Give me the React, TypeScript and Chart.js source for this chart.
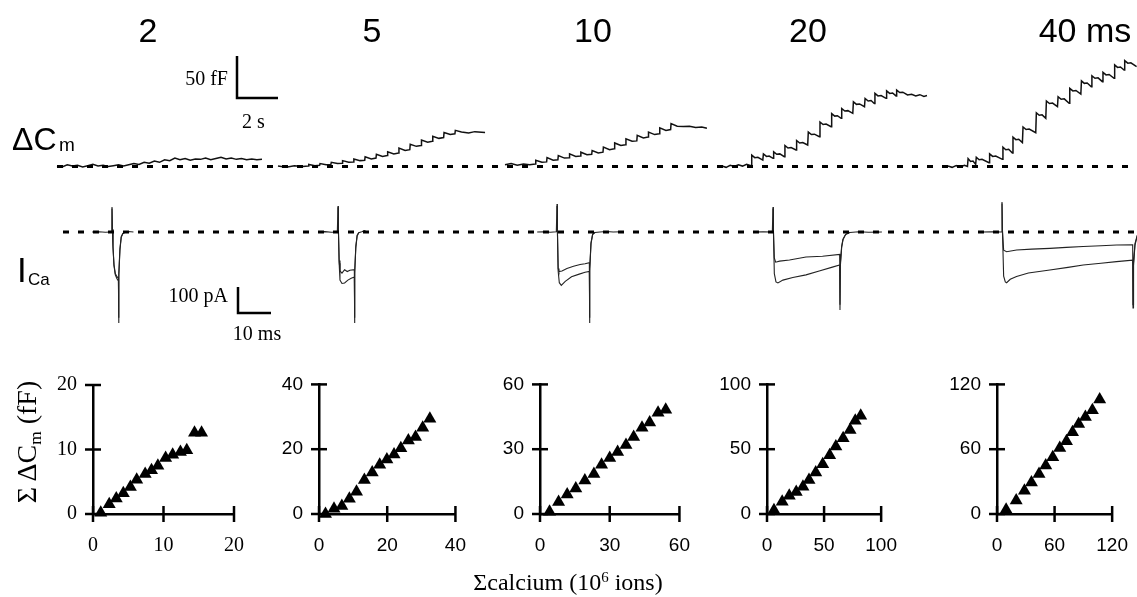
import React, { useEffect, useRef } from 'react';
import { Chart, registerables } from 'chart.js';

Chart.register(...registerables);

// ---------------- DATA ----------------
const pulseLabels = ['2', '5', '10', '20', '40 ms'];

// ΔCm traces: [time (s), ΔCm (fF)]
const dCm1: [number, number][] = [
  [0, 1], [0.25, -0.5], [0.5, 2], [0.75, 0.5], [1, 1.5], [1.25, -0.5], [1.5, 1], [1.75, 2.5], [2, 0.5],
  [2.25, 1.5], [2.5, 0], [2.75, 1], [3, 2], [3.25, 0.5], [3.5, 2], [3.75, 3.5], [4, 2.5], [4.25, 5],
  [4.5, 4], [4.75, 6.5], [5, 5], [5.25, 8], [5.5, 7], [5.75, 10], [6, 8], [6.25, 9.5], [6.5, 7.5],
  [6.75, 9], [7, 8.5], [7.25, 10], [7.5, 8], [7.75, 9.5], [8, 11], [8.25, 9], [8.5, 10], [8.75, 8.5],
  [9, 9.5], [9.25, 8], [9.5, 9], [9.75, 8], [10, 8.5],
];
const dCm2: [number, number][] = [
  [0, 0.5], [0.4, -1], [0.8, 1], [1.2, 0], [1.48, 0.5],
  [1.5, 2.5], [1.8, 1], [2.03, 1.5], [2.05, 3.5], [2.35, 2], [2.58, 2.5],
  [2.6, 5], [2.9, 3.5], [3.13, 4], [3.15, 7], [3.45, 5], [3.68, 5.5],
  [3.7, 9], [4.0, 7], [4.23, 7.5], [4.25, 11.5], [4.55, 9], [4.78, 10],
  [4.8, 14.5], [5.1, 12], [5.33, 13], [5.35, 17.5], [5.65, 15], [5.88, 16],
  [5.9, 22], [6.2, 19], [6.43, 20], [6.45, 26.5], [6.75, 24], [6.98, 25],
  [7.0, 31.5], [7.3, 29], [7.53, 30], [7.55, 36], [7.85, 33.5], [8.08, 34.5],
  [8.1, 40.5], [8.4, 38], [8.63, 39], [8.65, 43], [8.95, 41], [9.3, 40], [9.6, 41.5], [10.1, 40.5],
];
const dCm3: [number, number][] = [
  [0, 2], [0.3, 3.5], [0.6, 1.5], [0.9, 3], [1.2, 2], [1.48, 3],
  [1.5, 7.5], [1.8, 5], [2.03, 5.5], [2.05, 10.5], [2.35, 7.5], [2.58, 8],
  [2.6, 13], [2.9, 10], [3.13, 10.5], [3.15, 15], [3.45, 12], [3.68, 12.5],
  [3.7, 17], [4.0, 14], [4.23, 14.5], [4.25, 19], [4.55, 16], [4.78, 17],
  [4.8, 23], [5.1, 20], [5.33, 21], [5.35, 28], [5.65, 25], [5.88, 26],
  [5.9, 33], [6.2, 30], [6.43, 30.5], [6.45, 37], [6.75, 34], [6.98, 35],
  [7.0, 41], [7.3, 38], [7.53, 39], [7.55, 46], [7.85, 43], [8.08, 44],
  [8.1, 51], [8.4, 48], [8.7, 47.5], [9.0, 48], [9.3, 46.5], [9.6, 47], [9.85, 45.5],
];
const dCm4: [number, number][] = [
  [0, 0.5], [0.2, -1], [0.4, 1.5], [0.6, 0], [0.8, 2], [1.0, 0.5], [1.2, 2.5], [1.42, 1],
  [1.45, 13.5], [1.6, 10.5], [1.75, 11], [1.99, 7.7],
  [2.02, 15], [2.17, 12], [2.3, 12.5], [2.49, 9.7],
  [2.52, 17.5], [2.67, 14.5], [2.82, 15], [3.04, 11.7],
  [3.07, 25], [3.22, 22], [3.37, 22.5], [3.61, 19.6],
  [3.64, 31], [3.79, 28], [3.94, 28.5], [4.18, 25.6],
  [4.21, 41], [4.36, 38], [4.51, 38.5], [4.75, 35.5],
  [4.78, 53], [4.93, 50], [5.08, 50.5], [5.32, 47.4],
  [5.35, 63], [5.5, 60], [5.63, 60.5], [5.81, 57.4],
  [5.84, 69], [5.99, 66], [6.14, 66.5], [6.38, 63.3],
  [6.41, 77], [6.56, 74], [6.71, 74.5], [6.95, 71.2],
  [6.98, 81], [7.13, 78], [7.27, 78.5], [7.43, 75],
  [7.46, 87], [7.61, 84], [7.76, 84.5], [8.0, 81.2],
  [8.03, 90], [8.18, 87], [8.32, 87.5], [8.49, 84],
  [8.52, 91], [8.67, 88], [8.82, 88.5], [9.05, 85.1],
  [9.25, 86], [9.45, 84], [9.65, 85.5], [9.85, 83.5], [10, 84.5],
];
const dCm5: [number, number][] = [
  [0, 0.5], [0.2, -1], [0.4, 1], [0.6, -0.5], [0.8, 1.5], [0.95, 0],
  [0.98, 9.5], [1.1, 6], [1.22, 6.5], [1.35, 2.5],
  [1.38, 11], [1.52, 8], [1.66, 8.5], [2.0, 4.5],
  [2.03, 15], [2.18, 12], [2.33, 12.5], [2.65, 8.5],
  [2.68, 23], [2.82, 20], [2.96, 20.5], [3.14, 16],
  [3.17, 35], [3.31, 32], [3.45, 32.5], [3.63, 28.4],
  [3.66, 47], [3.81, 44], [3.96, 44.5], [4.28, 40.3],
  [4.31, 64], [4.45, 61], [4.59, 61.5], [4.77, 57.4],
  [4.8, 78], [4.95, 75], [5.1, 75.5], [5.34, 71.2],
  [5.37, 83], [5.52, 80], [5.67, 80.5], [5.91, 75.2],
  [5.94, 93], [6.09, 90], [6.24, 90.5], [6.48, 86.3],
  [6.51, 102], [6.65, 99], [6.79, 99.5], [6.99, 95],
  [7.02, 108], [7.17, 105], [7.32, 105.5], [7.53, 101],
  [7.56, 112], [7.71, 109], [7.86, 109.5], [8.1, 105],
  [8.13, 121], [8.27, 118], [8.41, 118.5], [8.59, 114.9],
  [8.62, 126], [8.77, 123], [8.92, 123.5], [9.2, 119],
];

// ICa traces: [time from pulse onset (ms), current (pA)]; a = larger, b = smaller
const iCa1a: [number, number][] = [
  [-6, 0], [-4, 1], [-2, -1], [-0.2, 0], [0, 96], [0.12, 10], [0.3, -60], [0.6, -130], [1.0, -165],
  [1.5, -180], [1.95, -188], [2.0, -350], [2.12, -170], [2.4, -70], [2.8, -20], [3.3, -6], [4.0, -1], [5, 2], [6.5, 0],
];
const iCa1b: [number, number][] = [
  [-0.2, 0], [0, 90], [0.12, 10], [0.3, -55], [0.6, -125], [1.0, -160], [1.5, -172], [1.95, -178],
  [2.0, -330], [2.12, -160], [2.4, -65], [2.8, -18], [3.3, -5], [4, 0],
];
const iCa2a: [number, number][] = [
  [-6, 0], [-4, 1.5], [-2, -1], [-0.2, 0], [0, 100], [0.12, 10], [0.35, -120], [0.6, -185], [1.2, -198],
  [2, -196], [3, -185], [4, -178], [4.95, -173], [5.0, -350], [5.12, -160], [5.4, -60], [5.8, -15],
  [6.3, -3], [7.2, 1], [8, 5], [8.8, 0],
];
const iCa2b: [number, number][] = [
  [0, 95], [0.12, 10], [0.35, -110], [0.6, -150], [1.2, -158], [2, -145], [2.8, -152], [3.6, -147],
  [4.95, -145], [5.0, -330], [5.12, -150], [5.4, -55], [5.8, -12], [6.3, -2],
];
const iCa3a: [number, number][] = [
  [-6, 0], [-4, 1], [-2, -1], [-0.2, 1], [0, 108], [0.12, 10], [0.35, -150], [0.7, -195], [1.3, -205],
  [2.5, -190], [4.4, -172], [6.5, -163], [8.5, -155], [9.8, -152], [9.85, -350], [9.97, -150],
  [10.3, -45], [10.8, -10], [11.5, -2], [13, 0], [15, 2], [17, 0], [20, 1],
];
const iCa3b: [number, number][] = [
  [0, 100], [0.12, 10], [0.35, -140], [0.6, -152], [1.5, -150], [3, -140], [5, -132], [7, -125],
  [8.5, -122], [9.8, -118], [9.85, -330], [9.97, -140], [10.3, -42], [10.8, -8], [11.5, -1],
];
const iCa4a: [number, number][] = [
  [-6, 0], [-3, 1], [-0.2, 0], [0, 96], [0.12, 10], [0.4, -160], [0.9, -192], [1.5, -196], [3, -185],
  [6, -175], [10, -165], [14, -150], [18, -135], [20.2, -127], [20.3, -300], [20.42, -130],
  [20.8, -60], [21.2, -30], [22, -10], [23.3, -2], [26, 1], [29, -1], [33, 0],
];
const iCa4b: [number, number][] = [
  [0, 90], [0.12, 10], [0.4, -100], [0.8, -116], [2, -112], [5, -108], [10, -96], [15, -93],
  [20.2, -86], [20.3, -280], [20.42, -120], [20.8, -55], [21.2, -28], [22, -9], [23.3, -1],
];
const iCa5a: [number, number][] = [
  [-6, 0], [-3, 1], [-0.2, 0], [0, 115], [0.12, 10], [0.5, -170], [1.0, -192], [1.4, -195],
  [2.5, -182], [4.4, -171], [8, -158], [14.5, -146], [20, -136], [24.6, -127], [30, -120],
  [34.7, -114], [39.6, -108], [39.7, -292], [39.85, -130], [40.3, -50], [41, -15],
];
const iCa5b: [number, number][] = [
  [0, 110], [0.12, 10], [0.5, -70], [1.4, -76], [4.4, -69], [9, -66], [14.5, -63], [19.5, -59],
  [24.6, -56], [30, -53], [34.7, -50], [39.6, -49], [39.7, -280], [39.85, -120], [40.3, -45], [41, -12],
];

// Cumulative plots: Σcalcium (10^6 ions) vs ΣΔCm (fF)
const calcium1 = [1.1, 2.3, 3.3, 4.3, 5.3, 6.2, 7.4, 8.3, 9.2, 10.3, 11.3, 12.4, 13.3, 14.4, 15.4];
const sumCm1 = [0.2, 1.5, 2.4, 3.2, 4.2, 5.3, 6.2, 6.8, 7.5, 8.7, 9.2, 9.6, 9.9, 12.6, 12.6];
const calcium2 = [1.9, 4.4, 6.7, 8.9, 11, 13.3, 15.6, 17.8, 19.9, 22, 24, 26.2, 28.3, 30.4, 32.5];
const sumCm2 = [0, 1.6, 2.5, 4.7, 6.9, 10.5, 12.8, 15.2, 16.8, 18.4, 20.3, 22.7, 23.8, 26.6, 29.4];
const calcium3 = [4.1, 8, 11.7, 15.4, 19.3, 23.2, 26.5, 30, 33.4, 37, 40.3, 43.9, 47.2, 50.8, 54.1];
const sumCm3 = [1, 5.6, 9, 11.8, 15.5, 18.5, 22.8, 25.9, 28.7, 31.9, 35.7, 39.9, 42.4, 46.9, 48.3];
const calcium4 = [6.1, 13.3, 19.5, 25.6, 31.5, 36.8, 42.7, 48.8, 54.9, 60.3, 66.7, 72.8, 77.3, 82.1];
const sumCm4 = [2.8, 9.4, 14, 16.9, 21.1, 26.2, 32.1, 38.4, 45.4, 52, 58.5, 64.9, 71.9, 75.9];
const calcium5 = [9.5, 20, 28.6, 35.9, 43.8, 50.8, 58.1, 65.4, 72.4, 78.7, 85.1, 92.1, 99.4, 107];
const sumCm5 = [3.9, 12.4, 21.6, 29.2, 37.1, 44.9, 52.5, 61, 67.4, 75.8, 83.4, 89.9, 96.1, 106];
const axisMax = [20, 40, 60, 100, 120];
const axisStep = [10, 20, 30, 50, 60];

// scale bars
const cmBarFF = 50;
const cmBarS = 2;
const iBarPA = 100;
const iBarMS = 10;

// ---------------- LAYOUT ----------------
const W = 1137;
const H = 597;
const SANS = '"Liberation Sans", Arial, Helvetica, sans-serif';
const SERIF = '"Liberation Serif", "Times New Roman", serif';

const CM_PX_PER_S = 20.5;
const CM_PX_PER_FF = 0.84;
const CM_BASE_Y = 166.5;
const CM_TOP = 40;
const CM_H = 140;
const CM_START_PX = [57, 278, 505, 722, 948];
const CM_BASE_END_PX = 1132;
const CM_BAR_PX = { x: 237, y: 98 };

const I_PX_PER_MS = 3.3;
const I_PX_PER_PA = 0.26;
const I_BASE_Y = 232;
const I_TOP = 195;
const I_H = 145;
const I_ONSET_PX = [112, 338, 557, 773, 1002];
const I_BASE_START_PX = 63;
const I_BAR_PX = { x: 238, y: 313 };

const SC_LEFT = [93, 319, 540, 767, 997];
const SC_W = [146, 142, 145, 125, 126];
const SC_TOP = 372;
const SC_H = 142;
const SC_YAXIS = 60;
const SC_XAXIS = 45;
const SC_PADT = 15;
const SC_PADR = 25;

const lineDs = (data: { x: number; y: number }[], width: number, color = '#111', dash: number[] = []) => ({
  data,
  showLine: true,
  pointRadius: 0,
  borderColor: color,
  backgroundColor: color,
  borderWidth: width,
  borderDash: dash,
  tension: 0,
  clip: false as any,
});

const hiddenOpts = (xmin: number, xmax: number, ymin: number, ymax: number) => ({
  responsive: false,
  maintainAspectRatio: false,
  animation: false as const,
  devicePixelRatio: 1,
  layout: { padding: 0 },
  plugins: { legend: { display: false }, tooltip: { enabled: false } },
  events: [] as any[],
  scales: {
    x: { type: 'linear' as const, display: false, min: xmin, max: xmax },
    y: { type: 'linear' as const, display: false, min: ymin, max: ymax },
  },
});

function buildCm() {
  const traces = [dCm1, dCm2, dCm3, dCm4, dCm5];
  const offs = CM_START_PX.map((p) => p / CM_PX_PER_S);
  const bx = CM_BAR_PX.x / CM_PX_PER_S;
  const by = (CM_BASE_Y - CM_BAR_PX.y) / CM_PX_PER_FF;
  return {
    type: 'scatter' as const,
    data: {
      datasets: [
        lineDs([{ x: offs[0], y: 0 }, { x: CM_BASE_END_PX / CM_PX_PER_S, y: 0 }], 3, '#000', [6, 9]),
        ...traces.map((tr, i) => lineDs(tr.map(([t, v]) => ({ x: t + offs[i], y: v })), 1.5)),
        lineDs([{ x: bx, y: by + cmBarFF }, { x: bx, y: by }, { x: bx + cmBarS, y: by }], 2.5, '#000'),
      ],
    },
    options: hiddenOpts(0, W / CM_PX_PER_S, -(CM_TOP + CM_H - CM_BASE_Y) / CM_PX_PER_FF, (CM_BASE_Y - CM_TOP) / CM_PX_PER_FF),
  };
}

function buildI() {
  const traces: [number, number][][][] = [
    [iCa1a, iCa1b], [iCa2a, iCa2b], [iCa3a, iCa3b], [iCa4a, iCa4b], [iCa5a, iCa5b],
  ];
  const offs = I_ONSET_PX.map((p) => p / I_PX_PER_MS);
  const bx = I_BAR_PX.x / I_PX_PER_MS;
  const by = -(I_BAR_PX.y - I_BASE_Y) / I_PX_PER_PA;
  const ds: any[] = [
    lineDs([{ x: I_BASE_START_PX / I_PX_PER_MS, y: 0 }, { x: W / I_PX_PER_MS, y: 0 }], 3, '#000', [6, 9]),
  ];
  traces.forEach((pair, i) => {
    pair.forEach((tr) => ds.push(lineDs(tr.map(([t, v]) => ({ x: t + offs[i], y: v })), 1.1, '#222')));
  });
  ds.push(lineDs([{ x: bx, y: by + iBarPA }, { x: bx, y: by }, { x: bx + iBarMS, y: by }], 2.5, '#000'));
  return {
    type: 'scatter' as const,
    data: { datasets: ds },
    options: hiddenOpts(0, W / I_PX_PER_MS, -(I_TOP + I_H - I_BASE_Y) / I_PX_PER_PA, (I_BASE_Y - I_TOP) / I_PX_PER_PA),
  };
}

const crossTicks = {
  id: 'crossTicks',
  afterDraw(chart: any) {
    const { ctx, scales } = chart;
    const x = scales.x;
    const y = scales.y;
    const half = 8;
    ctx.save();
    ctx.strokeStyle = '#000';
    ctx.lineWidth = 2.5;
    x.ticks.forEach((t: any) => {
      const px = x.getPixelForValue(t.value);
      ctx.beginPath();
      ctx.moveTo(px, y.bottom - half);
      ctx.lineTo(px, y.bottom + half);
      ctx.stroke();
    });
    y.ticks.forEach((t: any) => {
      const py = y.getPixelForValue(t.value);
      ctx.beginPath();
      ctx.moveTo(x.left - half, py);
      ctx.lineTo(x.left + half, py);
      ctx.stroke();
    });
    ctx.restore();
  },
};

function buildScatter(i: number) {
  const xs = [calcium1, calcium2, calcium3, calcium4, calcium5][i];
  const ys = [sumCm1, sumCm2, sumCm3, sumCm4, sumCm5][i];
  const font = i === 0 ? { family: SERIF, size: 20 } : { family: SANS, size: 19 };
  const common = {
    min: 0,
    max: axisMax[i],
    grid: { display: false, drawTicks: false, tickLength: 0 },
    border: { display: true, color: '#000', width: 2.5 },
  };
  return {
    type: 'scatter' as const,
    data: {
      datasets: [
        {
          data: xs.map((x, k) => ({ x, y: ys[k] })),
          pointStyle: 'triangle',
          pointRadius: 7.5,
          backgroundColor: '#000',
          borderColor: '#000',
          borderWidth: 0,
          clip: false as any,
        },
      ],
    },
    options: {
      responsive: false,
      maintainAspectRatio: false,
      animation: false as const,
      devicePixelRatio: 1,
      events: [] as any[],
      layout: { padding: { left: 0, top: SC_PADT, right: SC_PADR, bottom: 0 } },
      plugins: { legend: { display: false }, tooltip: { enabled: false } },
      scales: {
        x: {
          ...common,
          type: 'linear' as const,
          position: 'bottom' as const,
          ticks: { stepSize: axisStep[i], color: '#000', font, padding: 20, maxRotation: 0 },
          afterFit: (s: any) => { s.height = SC_XAXIS; },
        },
        y: {
          ...common,
          type: 'linear' as const,
          position: 'left' as const,
          ticks: { stepSize: axisStep[i], color: '#000', font, padding: 16 },
          afterFit: (s: any) => { s.width = SC_YAXIS; },
        },
      },
    },
    plugins: [crossTicks],
  };
}

function ChartBox({ left, top, width, height, build }: { left: number; top: number; width: number; height: number; build: () => any }) {
  const ref = useRef<HTMLCanvasElement>(null);
  useEffect(() => {
    const chart = new Chart(ref.current as HTMLCanvasElement, build());
    return () => chart.destroy();
  }, []);
  return (
    <canvas
      ref={ref}
      width={width}
      height={height}
      style={{ position: 'absolute', left, top, width, height, display: 'block' }}
    />
  );
}

function Txt({ x, y, size, serif, align = 'left', children }: { x: number; y: number; size: number; serif?: boolean; align?: string; children: any }) {
  const a = serif ? 0.8375 : 0.8465;
  const tr = align === 'center' ? 'translateX(-50%)' : align === 'right' ? 'translateX(-100%)' : undefined;
  return (
    <div
      style={{
        position: 'absolute',
        left: x,
        top: y - a * size,
        fontFamily: serif ? SERIF : SANS,
        fontSize: size,
        lineHeight: 1,
        whiteSpace: 'nowrap',
        color: '#000',
        transform: tr,
      }}
    >
      {children}
    </div>
  );
}

const headerX = [148, 372, 593, 808, 1085];

export default function App() {
  return (
    <div style={{ position: 'absolute', left: 0, top: 0, width: W, height: H, overflow: 'hidden', background: '#fff' }}>
      <ChartBox left={0} top={CM_TOP} width={W} height={CM_H} build={buildCm} />
      <ChartBox left={0} top={I_TOP} width={W} height={I_H} build={buildI} />
      {SC_LEFT.map((l, i) => (
        <ChartBox
          key={i}
          left={l - SC_YAXIS}
          top={SC_TOP - SC_PADT}
          width={SC_W[i] + SC_YAXIS + SC_PADR}
          height={SC_H + SC_PADT + SC_XAXIS}
          build={() => buildScatter(i)}
        />
      ))}

      {pulseLabels.map((t, i) => (
        <Txt key={t} x={headerX[i]} y={41.5} size={34} align="center">{t}</Txt>
      ))}

      <Txt x={12} y={150} size={32}>ΔC</Txt>
      <Txt x={59} y={151} size={19}>m</Txt>
      <Txt x={228} y={85} size={20} serif align="right">50 fF</Txt>
      <Txt x={242} y={128} size={20} serif>2 s</Txt>

      <Txt x={17} y={282} size={35}>I</Txt>
      <Txt x={28} y={285} size={17}>Ca</Txt>
      <Txt x={228} y={302} size={20} serif align="right">100 pA</Txt>
      <Txt x={257} y={340} size={20} serif align="center">10 ms</Txt>

      <div
        style={{
          position: 'absolute',
          left: 27,
          top: 442,
          transform: 'translate(-50%, -50%) rotate(-90deg)',
          fontFamily: SERIF,
          fontSize: 28,
          lineHeight: 1,
          whiteSpace: 'nowrap',
          color: '#000',
        }}
      >
        Σ ΔC<span style={{ fontSize: '0.62em', position: 'relative', top: '0.3em' }}>m</span> (fF)
      </div>
      <Txt x={568} y={590} size={24} serif align="center">
        Σcalcium (10<span style={{ fontSize: '0.62em', position: 'relative', top: '-0.5em' }}>6</span> ions)
      </Txt>
    </div>
  );
}
